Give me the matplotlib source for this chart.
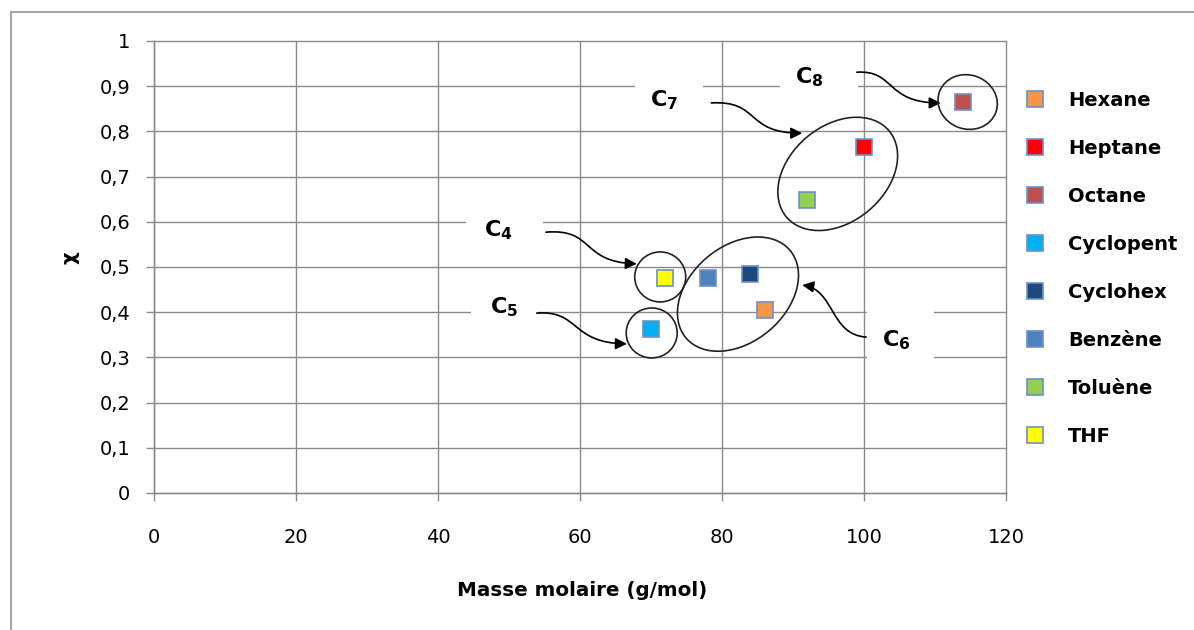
import matplotlib
matplotlib.use("Agg")
import matplotlib.pyplot as plt
import matplotlib.ticker as mticker
from matplotlib.patches import Ellipse, Rectangle, FancyArrowPatch
from matplotlib.path import Path
from matplotlib.transforms import ScaledTranslation

plt.rcParams['font.family'] = ['DejaVu Sans']
plt.rcParams['mathtext.fontset'] = 'dejavusans'

# données (masse molaire, chi)
solvants = ['Hexane', 'Heptane', 'Octane', 'Cyclopent', 'Cyclohex', 'Benzène', 'Toluène', 'THF']
masse = [86, 100, 114, 70, 84, 78, 92, 72]
chi = [0.405, 0.765, 0.865, 0.363, 0.485, 0.476, 0.648, 0.476]
couleurs = ['#F79646', '#FF0000', '#C0504D', '#00B0F0', '#1F497D', '#4F81BD', '#92D050', '#FFFF00']

x_ticks = [0, 20, 40, 60, 80, 100, 120]
y_ticks = [0, 0.1, 0.2, 0.3, 0.4, 0.5, 0.6, 0.7, 0.8, 0.9, 1.0]

# groupes : label, position du texte, cache blanc (x0, x1, y0, y1), flèche (4 points), ellipse (centre, l, h px, angle)
groupes = [
    ('8', (92.3, 0.920), (88.2, 99.2, 0.887, 0.958),
     [(99.0, 0.931), (104.4, 0.936), (103.0, 0.863), (110.8, 0.863)], (114.6, 0.865), 54, 60, 70),
    ('7', (71.8, 0.869), (67.7, 77.3, 0.82, 0.914),
     [(78.5, 0.863), (85.4, 0.869), (83.2, 0.796), (91.3, 0.796)], (96.3, 0.706), 134, 96, 40),
    ('4', (48.5, 0.582), (43.9, 54.8, 0.549, 0.637),
     [(55.2, 0.577), (62.1, 0.586), (60.0, 0.511), (68.0, 0.507)], (71.3, 0.478), 51, 50, 0),
    ('5', (49.3, 0.412), (44.6, 54.1, 0.36, 0.449),
     [(53.9, 0.398), (60.0, 0.405), (58.6, 0.332), (66.6, 0.330)], (70.1, 0.354), 51, 50, 0),
    ('6', (104.5, 0.338), (100.4, 109.9, 0.268, 0.427),
     [(100.3, 0.345), (95.2, 0.350), (95.9, 0.449), (91.3, 0.460)], (82.25, 0.440), 136, 96, 40),
]

fig = plt.figure(figsize=(11.94, 6.30), dpi=100)
ax = fig.add_axes([154 / 1194, 1 - 493 / 630, 852 / 1194, 452 / 630])

grid_col = '#8a8a8a'
for i, s in enumerate(solvants):
    ax.plot(masse[i], chi[i], 's', ms=12, mfc=couleurs[i], mec='#6d91c8', mew=1.2,
            label=s, zorder=5, clip_on=False)

ax.set_xlim(0, 120)
ax.set_ylim(0, 1)
ax.set_xticks(x_ticks)
ax.set_yticks(y_ticks)
ax.yaxis.set_major_formatter(mticker.FuncFormatter(lambda v, p: f"{v:g}".replace('.', ',')))
ax.grid(True, color=grid_col, lw=1.0)
ax.set_axisbelow(True)
for gl in ax.get_xgridlines() + ax.get_ygridlines():
    gl.set_clip_on(False)
for side in ['top', 'right']:
    ax.spines[side].set_visible(False)
for side in ['left', 'bottom']:
    ax.spines[side].set_color(grid_col)
    ax.spines[side].set_linewidth(1.0)
ax.tick_params(axis='y', length=6, width=1.0, color=grid_col, pad=11, labelsize=14)
ax.tick_params(axis='x', length=6, width=1.0, color=grid_col, pad=19, labelsize=14)

ax.set_xlabel('Masse molaire (g/mol)', fontsize=14.3, fontweight='bold')
ax.xaxis.set_label_coords((582 - 154) / 852, (493 - 591) / 452)
ax.xaxis.label.set_va('center')
fig.text(70 / 1194, 1 - 258 / 630, 'χ', rotation=90, fontsize=14, fontweight='bold',
         ha='center', va='center')

for num, txt_pos, box, pts, centre, w, h, ang in groupes:
    ax.add_patch(Rectangle((box[0], box[2]), box[1] - box[0], box[3] - box[2],
                           facecolor='white', edgecolor='none', zorder=2))
    ax.text(txt_pos[0], txt_pos[1], r'$\mathbf{C_{' + num + '}}$', fontsize=16,
            ha='center', va='center', zorder=6)
    chemin = Path(pts, [Path.MOVETO, Path.CURVE4, Path.CURVE4, Path.CURVE4])
    ax.add_patch(FancyArrowPatch(path=chemin, arrowstyle='-|>', mutation_scale=17,
                                 color='black', lw=1.2, zorder=6))
    tr = fig.dpi_scale_trans + ScaledTranslation(centre[0], centre[1], ax.transData)
    ax.add_patch(Ellipse((0, 0), w / 100, h / 100, angle=ang, transform=tr,
                         fill=False, edgecolor='#222222', lw=1.2, zorder=6, clip_on=False))

leg = ax.legend(loc='upper left', bbox_to_anchor=(1025 / 1194, 1 - 91 / 630),
                bbox_transform=fig.transFigure, frameon=False,
                prop={'weight': 'bold', 'size': 14}, handletextpad=1.2,
                labelspacing=1.49, borderpad=0, borderaxespad=0, handlelength=1.0)

# cadre extérieur
fig.patches.append(Rectangle((11 / 1194, -0.1), 1.2, 1.1 - 12 / 630, transform=fig.transFigure,
                             fill=False, edgecolor='#a6a6a6', lw=1.5, figure=fig))

fig.savefig('out.png', dpi=100)
